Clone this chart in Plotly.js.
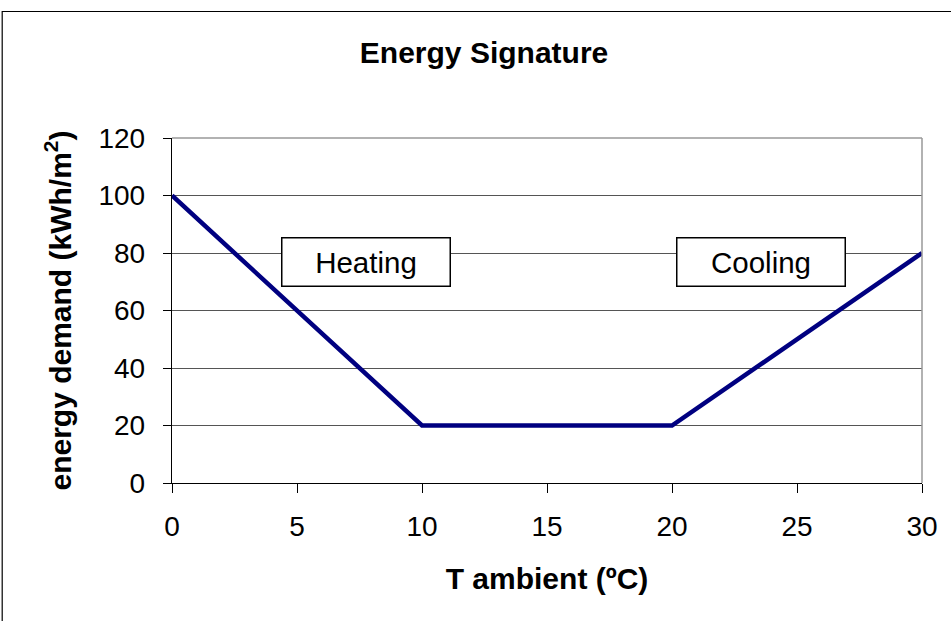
<!DOCTYPE html>
<html><head><meta charset="utf-8">
<script src="https://cdn.plot.ly/plotly-3.0.1.min.js"></script>
<style>html,body{margin:0;padding:0;background:#fff}#c{width:951px;height:621px}</style>
</head><body><div id="c"></div>
<script>
const temperature = [0, 10, 20, 30];
const demand = [100, 20, 20, 80];
const labels = ["Heating", "Cooling"];
const labelX = [7.75, 23.55];
const labelY = [76.9, 76.9];

const font = "Arial, 'Liberation Sans', sans-serif";
const data = [{
  x: temperature, y: demand, type: "scatter", mode: "lines",
  line: {color: "#000080", width: 4.5}, hoverinfo: "skip"
}];
const layout = {
  width: 951, height: 621,
  margin: {l: 171.5, r: 28.5, t: 138, b: 138},
  paper_bgcolor: "#fff", plot_bgcolor: "#fff",
  showlegend: false,
  font: {family: font, color: "#000", size: 28},
  title: {text: "<b>Energy Signature</b>", x: 0.509, xanchor: "center", y: 0.916, yanchor: "middle", font: {family: font, size: 30, color: "#000"}},
  xaxis: {
    range: [0, 30], dtick: 5, tick0: 0, showgrid: false, zeroline: false,
    showline: true, linecolor: "#000", linewidth: 1.3, mirror: false,
    ticks: "outside", ticklen: 9, tickcolor: "#000", tickwidth: 1,
    ticklabelstandoff: 9,
    tickfont: {family: font, size: 28, color: "#000"},
    title: {text: "<b>T ambient (ºC)</b>", font: {family: font, size: 30, color: "#000"}, standoff: 27}
  },
  yaxis: {
    range: [0, 120], dtick: 20, tick0: 0, showgrid: true, gridcolor: "#555", gridwidth: 1,
    zeroline: false, showline: true, linecolor: "#000", linewidth: 1.3,
    ticks: "outside", ticklen: 8, tickcolor: "#000", tickwidth: 1,
    ticklabelstandoff: 12,
    tickfont: {family: font, size: 28, color: "#000"},
    title: {text: "<b>energy demand (kWh/m<sup>2</sup>)</b>", font: {family: font, size: 30, color: "#000"}, standoff: 18}
  },
  shapes: [
    {type: "line", xref: "paper", yref: "paper", x0: 0, x1: 1, y0: 1, y1: 1, line: {color: "#999", width: 1.5}},
    {type: "line", xref: "paper", yref: "paper", x0: 1, x1: 1, y0: 0, y1: 1, line: {color: "#999", width: 1.5}},
    {type: "rect", xref: "paper", yref: "paper", x0: -0.2264, x1: 1.04, y0: -0.41, y1: 1.3667, line: {color: "#000", width: 1.2}, layer: "below"}
  ],
  annotations: labels.map((t, i) => ({
    x: labelX[i], y: labelY[i], xref: "x", yref: "y", text: t, showarrow: false,
    font: {family: font, size: 29.5, color: "#000"},
    bgcolor: "#fff", bordercolor: "#000", borderwidth: 1.5, borderpad: 0,
    width: 167, height: 47
  }))
};
Plotly.newPlot("c", data, layout, {displayModeBar: false, staticPlot: true});
</script></body></html>
